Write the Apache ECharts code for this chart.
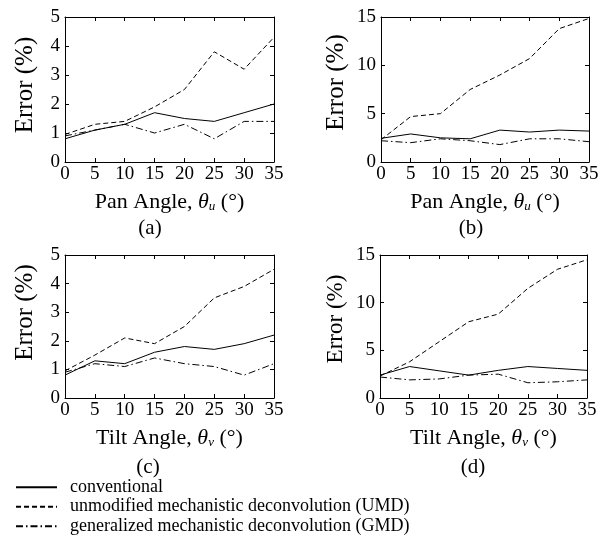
<!DOCTYPE html>
<html>
<head>
<meta charset="utf-8">
<script src="https://cdn.jsdelivr.net/npm/echarts@6/dist/echarts.min.js"></script>
<style>html,body{margin:0;padding:0;background:#fff}#c{width:611px;height:540px}</style>
</head>
<body>
<div id="c"></div>
<script>
var angles = [0, 5, 10, 15, 20, 25, 30, 35];
var seriesNames = ['conventional', 'unmodified mechanistic deconvolution (UMD)', 'generalized mechanistic deconvolution (GMD)'];

// (a) Pan angle, panel a
var aConv = [0.8, 1.1, 1.3, 1.7, 1.5, 1.4, 1.7, 2.0];
var aUMD  = [0.95, 1.3, 1.4, 1.9, 2.5, 3.8, 3.2, 4.3];
var aGMD  = [0.9, 1.1, 1.3, 1.0, 1.3, 0.8, 1.4, 1.4];
// (b) Pan angle, panel b
var bConv = [2.45, 2.9, 2.5, 2.4, 3.3, 3.1, 3.3, 3.2];
var bUMD  = [2.3, 4.7, 5.0, 7.5, 9.0, 10.7, 13.8, 14.85];
var bGMD  = [2.2, 2.0, 2.4, 2.2, 1.8, 2.4, 2.4, 2.1];
// (c) Tilt angle, panel c
var cConv = [0.8, 1.3, 1.2, 1.6, 1.8, 1.7, 1.9, 2.2];
var cUMD  = [0.95, 1.5, 2.1, 1.9, 2.5, 3.5, 3.9, 4.5];
var cGMD  = [0.9, 1.2, 1.1, 1.4, 1.2, 1.1, 0.8, 1.2];
// (d) Tilt angle, panel d
var dConv = [2.4, 3.3, 2.85, 2.4, 2.9, 3.3, 3.1, 2.9];
var dUMD  = [2.3, 3.8, 5.9, 8.0, 8.8, 11.5, 13.5, 14.5];
var dGMD  = [2.2, 1.9, 2.0, 2.4, 2.5, 1.6, 1.7, 1.9];

var panelLabels = ['(a)', '(b)', '(c)', '(d)'];
var yMax = [5, 15, 5, 15];
var yInterval = [1, 5, 1, 5];
var xTitles = [
  '{n|Pan Angle, }{t|θ}{s|u}{n| (°)}',
  '{n|Pan Angle, }{t|θ}{s|u}{n| (°)}',
  '{n|Tilt Angle, }{t|θ}{s|v}{n| (°)}',
  '{n|Tilt Angle, }{t|θ}{s|v}{n| (°)}'
];
var panelData = [[aConv, aUMD, aGMD], [bConv, bUMD, bGMD], [cConv, cUMD, cGMD], [dConv, dUMD, dGMD]];

var FONT = 'Liberation Serif';
var grids = [
  {left: 65, top: 17, width: 209, height: 145},
  {left: 381, top: 17, width: 208, height: 145},
  {left: 65, top: 255, width: 209, height: 143},
  {left: 380, top: 255, width: 207, height: 143}
];
var labelPos = [
  {x: 150, y: 218}, {x: 471, y: 218}, {x: 148, y: 457}, {x: 473, y: 457}
];
var yNameStyle = [
  {fs: 25, gap: 27, pad: 9},
  {fs: 25, gap: 32, pad: 14},
  {fs: 25, gap: 27, pad: 28},
  {fs: 23, gap: 33, pad: 15}
];
var lineTypes = ['solid', [5, 3], [7, 3, 1.5, 3]];

var xAxes = [], yAxes = [], series = [], titles = [];
for (var i = 0; i < 4; i++) {
  var rich = {
    n: {fontFamily: FONT, fontSize: 22, color: '#000'},
    t: {fontFamily: FONT, fontSize: 22, fontStyle: 'italic', color: '#000'},
    s: {fontFamily: FONT, fontSize: 13, fontStyle: 'italic', color: '#000', verticalAlign: 'bottom', padding: [8, 0, 0, 0]}
  };
  xAxes.push({
    type: 'value', gridIndex: i, min: 0, max: 35, interval: 5, position: 'bottom',
    name: xTitles[i], nameLocation: 'middle', nameGap: 29,
    nameTextStyle: {rich: rich},
    axisLine: {show: true, onZero: false, lineStyle: {color: '#000', width: 1}},
    axisTick: {show: true, inside: true, length: 4, lineStyle: {color: '#000'}},
    axisLabel: {color: '#000', fontFamily: FONT, fontSize: 19, margin: 3},
    splitLine: {show: false}
  });
  xAxes.push({
    type: 'value', gridIndex: i, min: 0, max: 35, interval: 5, position: 'top',
    axisLine: {show: true, onZero: false, lineStyle: {color: '#000', width: 1}},
    axisTick: {show: true, inside: true, length: 4, lineStyle: {color: '#000'}},
    axisLabel: {show: false}, splitLine: {show: false}
  });
  yAxes.push({
    type: 'value', gridIndex: i, min: 0, max: yMax[i], interval: yInterval[i], position: 'left',
    name: 'Error (%)', nameLocation: 'middle', nameGap: yNameStyle[i].gap,
    nameTextStyle: {fontFamily: FONT, fontSize: yNameStyle[i].fs, color: '#000', padding: [0, 0, 0, yNameStyle[i].pad]},
    axisLine: {show: true, onZero: false, lineStyle: {color: '#000', width: 1}},
    axisTick: {show: true, inside: true, length: 4, lineStyle: {color: '#000'}},
    axisLabel: {color: '#000', fontFamily: FONT, fontSize: 19, margin: 5},
    splitLine: {show: false}
  });
  yAxes.push({
    type: 'value', gridIndex: i, min: 0, max: yMax[i], interval: yInterval[i], position: 'right',
    axisLine: {show: true, onZero: false, lineStyle: {color: '#000', width: 1}},
    axisTick: {show: true, inside: true, length: 4, lineStyle: {color: '#000'}},
    axisLabel: {show: false}, splitLine: {show: false}
  });
  for (var k = 0; k < 3; k++) {
    var vals = panelData[i][k];
    series.push({
      type: 'line', name: seriesNames[k], xAxisIndex: 2 * i, yAxisIndex: 2 * i,
      data: angles.map(function (a, j) { return [a, vals[j]]; }),
      symbol: 'none', silent: true, animation: false,
      lineStyle: {color: '#000', width: 1, type: lineTypes[k]},
      itemStyle: {color: '#000'}
    });
  }
  titles.push({
    text: panelLabels[i], left: labelPos[i].x, top: labelPos[i].y, textAlign: 'center',
    textStyle: {fontFamily: FONT, fontSize: 21, fontWeight: 'normal', color: '#000'}, padding: 0
  });
}

var chart = echarts.init(document.getElementById('c'), null, {renderer: 'canvas'});
chart.setOption({
  backgroundColor: '#fff',
  animation: false,
  title: titles,
  grid: grids,
  xAxis: xAxes,
  yAxis: yAxes,
  legend: {
    data: seriesNames, orient: 'vertical', left: 15, top: 478, itemWidth: 41, itemHeight: 10, itemGap: 1,
    padding: 0, selectedMode: false,
    itemStyle: {opacity: 0, borderWidth: 0},
    textStyle: {fontFamily: FONT, fontSize: 18, lineHeight: 18.5, color: '#000', padding: [0, 0, 0, 8]}
  },
  series: series
});
</script>
</body>
</html>
